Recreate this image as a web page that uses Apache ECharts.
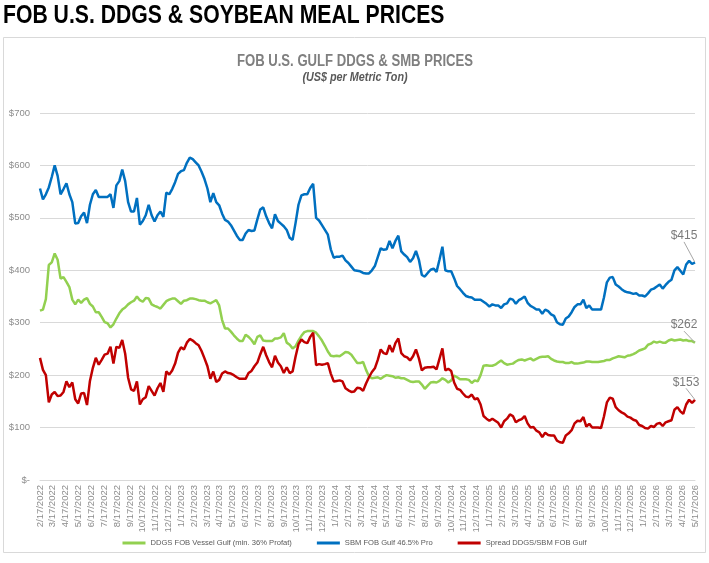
<!DOCTYPE html>
<html>
<head>
<meta charset="utf-8">
<script src="https://cdn.jsdelivr.net/npm/echarts@6/dist/echarts.min.js"></script>
<style>
html,body{margin:0;padding:0;background:#fff;}
#main{width:709px;height:563px;}
</style>
</head>
<body>
<div id="main"></div>
<script>
// ---- DATA ----
const pageTitle = 'FOB U.S. DDGS & SOYBEAN MEAL PRICES';
const chartTitle = 'FOB U.S. GULF DDGS & SMB PRICES';
const chartSubtitle = '(US$ per Metric Ton)';

const seriesNames = ['DDGS FOB Vessel Gulf (min. 36% Profat)', 'SBM FOB Gulf 46.5% Pro', 'Spread DDGS/SBM FOB Gulf'];

const monthLabels = [
'2/17/2022','3/17/2022','4/17/2022','5/17/2022','6/17/2022','7/17/2022','8/17/2022','9/17/2022','10/17/2022','11/17/2022','12/17/2022',
'1/17/2023','2/17/2023','3/17/2023','4/17/2023','5/17/2023','6/17/2023','7/17/2023','8/17/2023','9/17/2023','10/17/2023','11/17/2023','12/17/2023',
'1/17/2024','2/17/2024','3/17/2024','4/17/2024','5/17/2024','6/17/2024','7/17/2024','8/17/2024','9/17/2024','10/17/2024','11/17/2024','12/17/2024',
'1/17/2025','2/17/2025','3/17/2025','4/17/2025','5/17/2025','6/17/2025','7/17/2025','8/17/2025','9/17/2025','10/17/2025','11/17/2025','12/17/2025',
'1/17/2026','2/17/2026','3/17/2026','4/17/2026','5/17/2026'
];

const yTicks = [0, 100, 200, 300, 400, 500, 600, 700];

// weekly prices, US$/MT
const ddgs = [
323,325,345,410,415,432,420,384,387,378,368,344,335,344,338,344,347,336,331,320,
320,311,301,299,291,297,308,318,325,329,335,339,342,350,343,340,347,346,335,332,
330,327,334,341,344,346,346,341,336,342,343,346,346,345,343,342,342,339,337,340,
343,333,305,289,289,283,276,270,265,265,277,273,267,259,273,276,266,265,265,265,
270,270,272,280,262,258,251,255,266,275,282,284,284,284,281,274,266,256,245,237,
236,237,236,240,244,243,239,231,223,223,225,210,198,194,195,196,193,197,200,199,
198,195,196,194,194,191,188,187,188,188,182,174,180,186,187,186,189,194,191,186,
190,199,196,192,192,192,191,185,190,188,200,218,219,218,218,220,224,228,223,220,
221,222,226,229,230,228,230,232,228,231,234,235,235,236,231,228,226,225,225,223,
223,225,222,222,223,224,226,226,225,225,225,226,227,229,229,232,234,236,235,234,
237,238,240,243,247,249,251,258,260,264,262,264,262,262,266,268,266,267,268,266,
267,265,265,262
];

const sbm = [
556,535,545,558,578,600,580,545,555,566,545,530,489,490,503,510,490,525,545,553,
540,540,540,540,545,519,562,570,592,570,530,512,512,538,487,494,505,525,505,493,
505,512,502,548,545,555,568,584,589,591,605,615,612,606,600,588,574,556,530,547,
530,524,508,496,493,486,476,466,458,458,470,477,475,476,497,516,520,503,490,480,
507,494,489,484,477,462,458,490,525,543,545,545,557,565,500,495,486,477,468,440,
424,426,426,428,419,414,407,400,399,398,395,394,394,400,408,425,442,439,440,456,
442,456,466,436,430,425,416,423,437,420,391,388,395,401,403,397,420,445,400,398,
398,385,370,364,357,351,349,348,344,344,344,340,336,331,335,333,333,328,335,337,
346,344,336,343,346,350,338,332,329,325,325,317,325,322,316,313,301,297,296,308,
312,320,330,335,335,344,328,333,325,325,325,325,348,377,386,387,373,369,364,360,
358,357,355,356,352,352,350,356,363,365,369,373,365,372,378,382,400,406,399,392,
411,418,412,415
];

const spread = [
233,210,200,148,163,168,160,161,168,188,177,186,154,146,165,166,143,189,214,233,
220,229,239,241,254,222,254,252,267,241,195,173,170,188,144,154,158,179,170,161,
175,185,168,207,201,209,222,243,253,249,262,269,266,261,257,246,232,217,193,207,
187,191,203,207,204,203,200,196,193,193,193,204,208,217,224,240,254,238,225,215,
237,224,217,204,215,204,207,235,259,268,263,261,273,281,219,221,220,221,223,203,
188,189,190,188,175,171,168,169,176,175,170,184,196,206,213,229,249,242,240,257,
244,261,270,242,236,234,228,236,249,232,209,214,215,215,216,211,231,251,209,212,
208,186,174,172,165,159,158,163,154,156,144,122,117,113,117,113,109,100,112,117,
125,122,110,114,116,122,108,100,101,94,91,82,90,86,85,85,75,72,71,85,
89,95,108,113,112,120,102,107,100,100,100,99,121,148,157,155,139,133,129,126,
121,119,115,113,105,103,99,98,103,101,107,109,103,110,112,114,134,139,131,126,
144,153,147,153
];

const colors = ['#92d050', '#0070c0', '#c00000'];

// ---- CHART ----
const weekIdx = sbm.map((_, i) => i);
const sans = "'Liberation Sans',Arial,sans-serif";
const seriesData = [ddgs, sbm, spread];
const endOffsets = [[-11, -7], [-11, -16], [-9, -7]];

const lineSeries = seriesNames.map((name, k) => ({
  name: name,
  type: 'line',
  xAxisIndex: 1,
  data: seriesData[k],
  symbol: 'none',
  showSymbol: false,
  lineStyle: { color: colors[k], width: 2.5 },
  itemStyle: { color: colors[k] },
  z: k === 1 ? 3 : (k === 0 ? 2 : 4)
}));

const endLabelSeries = seriesData.map((arr, k) => ({
  name: 'end' + k,
  type: 'scatter',
  xAxisIndex: 1,
  data: [[arr.length - 1, arr[arr.length - 1]]],
  symbolSize: 1,
  itemStyle: { color: 'rgba(0,0,0,0)' },
  silent: true,
  z: 10,
  label: {
    show: true, position: 'top', distance: 4,
    formatter: p => '$' + p.value[1],
    color: '#595959', fontSize: 12, fontFamily: sans
  },
  labelLine: { show: true, lineStyle: { color: '#a6a6a6', width: 1 } },
  labelLayout: { dx: endOffsets[k][0], dy: endOffsets[k][1] }
}));

const chart = echarts.init(document.getElementById('main'), null, { renderer: 'canvas' });
chart.setOption({
  animation: false,
  backgroundColor: '#ffffff',
  graphic: [
    { type: 'rect', x: 3.5, y: 37.5, shape: { width: 702, height: 515 },
      style: { fill: 'none', stroke: '#d9d9d9', lineWidth: 1 }, silent: true },
    { type: 'text', x: 3, y: 3, scaleX: 0.815,
      style: { text: pageTitle, font: "bold 26px " + sans, fill: '#000000', textVerticalAlign: 'top' } },
    { type: 'text', x: 355, y: 54, scaleX: 0.82,
      style: { text: chartTitle, font: "bold 16px " + sans, fill: '#7f7f7f', textAlign: 'center', textVerticalAlign: 'top' } },
    { type: 'text', x: 355, y: 72, scaleX: 0.9,
      style: { text: chartSubtitle, font: "italic bold 12px " + sans, fill: '#595959', textAlign: 'center', textVerticalAlign: 'top' } }
  ],
  legend: {
    data: seriesNames,
    left: 'center',
    top: 534,
    icon: 'rect',
    itemWidth: 23,
    itemHeight: 3,
    itemGap: 25,
    textStyle: { fontFamily: sans, fontSize: 7.6, color: '#595959' }
  },
  grid: { left: 40, right: 14, top: 113, bottom: 83, containLabel: false },
  xAxis: [
    {
      type: 'category', data: monthLabels, boundaryGap: false,
      axisLine: { show: true, lineStyle: { color: '#d9d9d9', width: 1 } },
      axisTick: { show: false },
      axisLabel: { interval: 0, rotate: 90, fontFamily: sans, fontSize: 9.5, color: '#8c8c8c', margin: 5 },
      splitLine: { show: false }
    },
    {
      type: 'category', data: weekIdx, boundaryGap: false, show: false
    }
  ],
  yAxis: {
    type: 'value', min: yTicks[0], max: yTicks[yTicks.length - 1], interval: 100,
    axisLine: { show: false }, axisTick: { show: false },
    axisLabel: { formatter: v => v === 0 ? '$-' : '$' + v, fontFamily: sans, fontSize: 9.5, color: '#8c8c8c', margin: 10 },
    splitLine: { lineStyle: { color: '#d9d9d9', width: 1 } }
  },
  series: lineSeries.concat(endLabelSeries)
});
</script>
</body>
</html>
